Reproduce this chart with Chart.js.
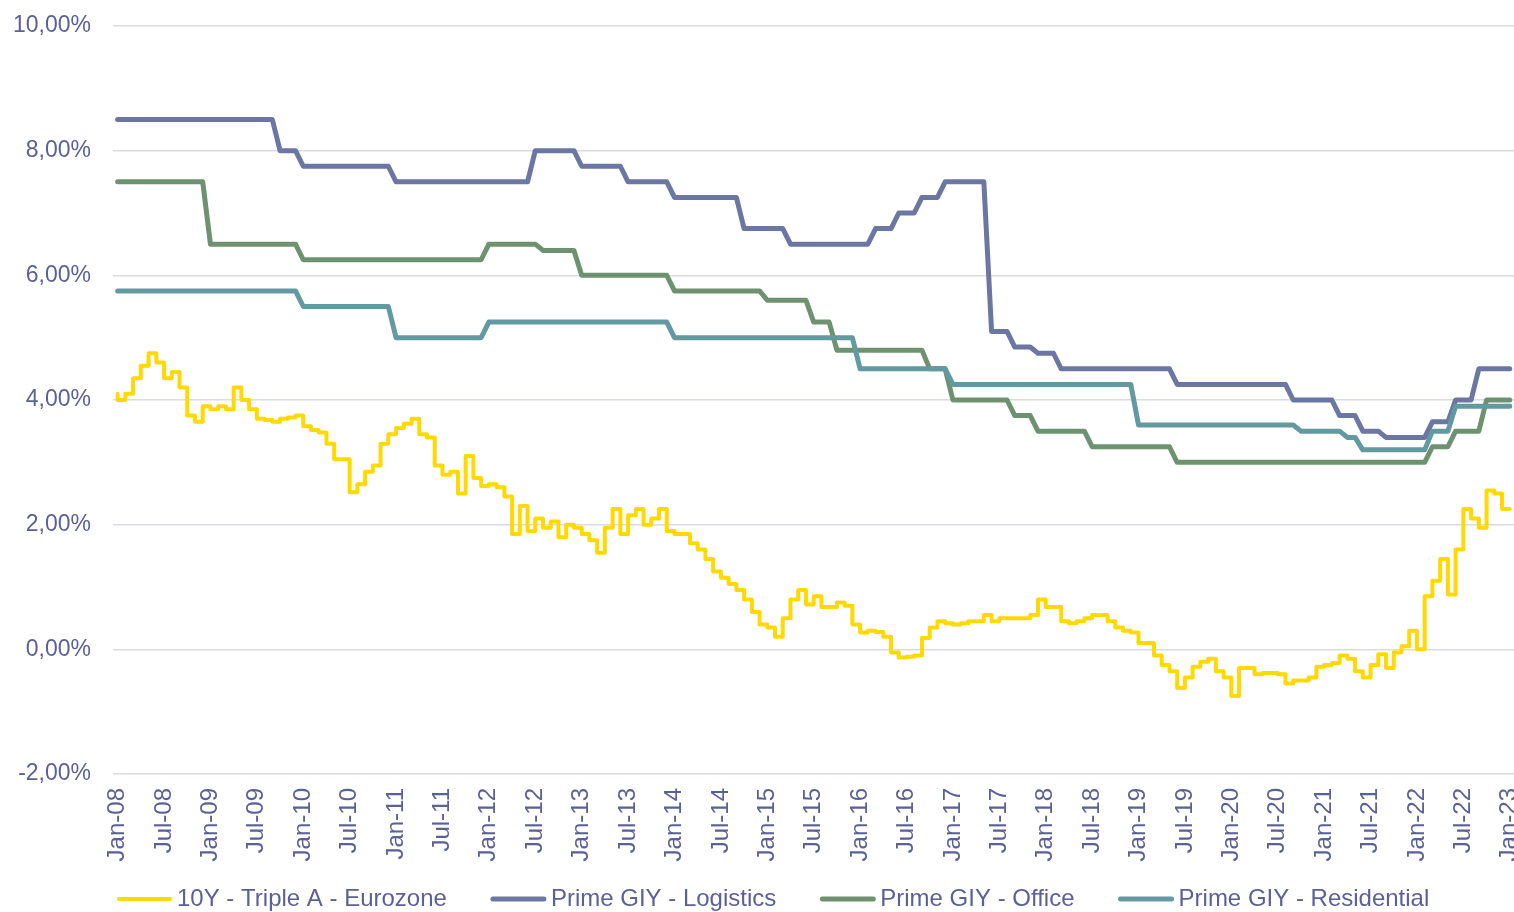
<!DOCTYPE html>
<html>
<head>
<meta charset="utf-8">
<title>Yields</title>
<script src="https://cdn.jsdelivr.net/npm/chart.js@4.4.1/dist/chart.umd.min.js"></script>
<style>
  html, body { margin: 0; padding: 0; background: #fff; }
  canvas { display: block; }
</style>
</head>
<body>
<canvas id="yieldChart" width="1514" height="912"></canvas>
<script>
// x axis: months since Jan-08, labelled every six months
const xTickLabels = ['Jan-08', 'Jul-08', 'Jan-09', 'Jul-09', 'Jan-10', 'Jul-10', 'Jan-11', 'Jul-11',
    'Jan-12', 'Jul-12', 'Jan-13', 'Jul-13', 'Jan-14', 'Jul-14', 'Jan-15', 'Jul-15', 'Jan-16', 'Jul-16',
    'Jan-17', 'Jul-17', 'Jan-18', 'Jul-18', 'Jan-19', 'Jul-19', 'Jan-20', 'Jul-20', 'Jan-21', 'Jul-21',
    'Jan-22', 'Jul-22', 'Jan-23'];
const yTickLabels = ['-2,00%', '0,00%', '2,00%', '4,00%', '6,00%', '8,00%', '10,00%'];

const seriesNames = ['10Y - Triple A - Eurozone', 'Prime GIY - Logistics', 'Prime GIY - Office', 'Prime GIY - Residential'];

// 10Y AAA eurozone yield, one value per month Jan-08 .. Jan-23
const bondYield = [
    4.1, 4.0, 4.1, 4.35, 4.55, 4.75, 4.6, 4.35, 4.45, 4.2, 3.75, 3.65,
    3.9, 3.85, 3.9, 3.85, 4.2, 4.0, 3.85, 3.7, 3.68, 3.65, 3.7, 3.72,
    3.75, 3.58, 3.52, 3.48, 3.3, 3.05, 3.05, 2.52, 2.65, 2.85, 2.95, 3.3,
    3.45, 3.55, 3.62, 3.7, 3.45, 3.4, 2.95, 2.8, 2.85, 2.5, 3.1, 2.75,
    2.62, 2.65, 2.6, 2.45, 1.85, 2.3, 1.9, 2.1, 1.95, 2.05, 1.8, 2.0,
    1.95, 1.85, 1.75, 1.55, 1.95, 2.25, 1.85, 2.15, 2.25, 2.0, 2.1, 2.25,
    1.9, 1.85, 1.85, 1.7, 1.6, 1.45, 1.25, 1.15, 1.05, 0.95, 0.8, 0.6,
    0.4, 0.35, 0.2, 0.5, 0.8, 0.95, 0.72, 0.85, 0.68, 0.68, 0.75, 0.7,
    0.4, 0.27, 0.3, 0.28, 0.2, -0.05, -0.13, -0.12, -0.1, 0.18, 0.35, 0.45,
    0.42, 0.4, 0.42, 0.45, 0.45, 0.55, 0.45, 0.5, 0.5, 0.5, 0.5, 0.55,
    0.8, 0.68, 0.68, 0.45, 0.42, 0.45, 0.5, 0.55, 0.55, 0.45, 0.35, 0.3,
    0.27, 0.1, 0.1, -0.1, -0.25, -0.35, -0.62, -0.45, -0.28, -0.2, -0.15, -0.35,
    -0.45, -0.75, -0.3, -0.3, -0.4, -0.38, -0.38, -0.4, -0.55, -0.5, -0.5, -0.45,
    -0.28, -0.25, -0.22, -0.1, -0.15, -0.35, -0.45, -0.25, -0.08, -0.3, -0.05, 0.05,
    0.3, 0.0, 0.85, 1.1, 1.45, 0.88, 1.6, 2.25, 2.1, 1.95, 2.55, 2.5, 2.25
];

// prime gross initial yields: month the new level applies from, and the level
const logisticsFrom = [0, 21, 24, 36, 54, 60, 66, 72, 81, 87, 98, 101, 104, 107, 113, 116, 119, 122, 137, 152, 158, 161, 164, 170, 173, 176];
const logisticsRate = [8.5, 8.0, 7.75, 7.5, 8.0, 7.75, 7.5, 7.25, 6.75, 6.5, 6.75, 7.0, 7.25, 7.5, 5.1, 4.85, 4.75, 4.5, 4.25, 4.0, 3.75, 3.5, 3.4, 3.65, 4.0, 4.5];

const officeFrom = [0, 12, 24, 48, 55, 60, 72, 84, 90, 93, 105, 108, 116, 119, 126, 137, 170, 173, 177];
const officeRate = [7.5, 6.5, 6.25, 6.5, 6.4, 6.0, 5.75, 5.6, 5.25, 4.8, 4.5, 4.0, 3.75, 3.5, 3.25, 3.0, 3.25, 3.5, 4.0];

const residentialFrom = [0, 24, 36, 48, 72, 96, 108, 132, 153, 159, 161, 170, 173];
const residentialRate = [5.75, 5.5, 5.0, 5.25, 5.0, 4.5, 4.25, 3.6, 3.5, 3.4, 3.2, 3.5, 3.9];

const LAST_MONTH = 180;
const TEXT = '#5b6197';
const FONT_FAMILY = '"Liberation Sans", Arial, sans-serif';

// level held until the month before the next change
function heldLevels(from, rate) {
    const pts = [];
    for (let i = 0; i < from.length; i++) {
        const end = i + 1 < from.length ? from[i + 1] - 1 : LAST_MONTH;
        pts.push({ x: from[i], y: rate[i] });
        if (end > from[i]) pts.push({ x: end, y: rate[i] });
    }
    return pts;
}

const legendRow = {
    id: 'legendRow',
    afterDraw(chart) {
        const ctx = chart.ctx;
        const y = 899;
        let x = chart.chartArea.left + 4;
        ctx.save();
        ctx.font = '24px ' + FONT_FAMILY;
        ctx.textBaseline = 'middle';
        ctx.lineCap = 'round';
        chart.data.datasets.forEach(ds => {
            ctx.strokeStyle = ds.borderColor;
            ctx.lineWidth = Math.max(4, ds.borderWidth);
            ctx.beginPath();
            ctx.moveTo(x + 2, y);
            ctx.lineTo(x + 53, y);
            ctx.stroke();
            x += 60;
            ctx.fillStyle = TEXT;
            ctx.fillText(ds.label, x, y);
            x += ctx.measureText(ds.label).width + 44;
        });
        ctx.restore();
    }
};

function noPadding(scale) {
    scale.paddingTop = 0;
    scale.paddingBottom = 0;
    scale.paddingLeft = 0;
    scale.paddingRight = 0;
}

function drawChart() {
    const ctx = document.getElementById('yieldChart');
    Chart.defaults.font.family = FONT_FAMILY;
    Chart.defaults.color = TEXT;

    const lineStyle = {
        fill: false,
        pointRadius: 0,
        borderCapStyle: 'round',
        borderJoinStyle: 'round'
    };

    const data = {
        datasets: [{
            ...lineStyle,
            label: seriesNames[0],
            data: bondYield.map((v, i) => ({ x: i, y: v })),
            borderColor: '#ffd900',
            borderWidth: 4,
            stepped: 'after',
            order: 3
        }, {
            ...lineStyle,
            label: seriesNames[1],
            data: heldLevels(logisticsFrom, logisticsRate),
            borderColor: '#6b76a2',
            borderWidth: 5,
            order: 2
        }, {
            ...lineStyle,
            label: seriesNames[2],
            data: heldLevels(officeFrom, officeRate),
            borderColor: '#6e9270',
            borderWidth: 5,
            order: 1
        }, {
            ...lineStyle,
            label: seriesNames[3],
            data: heldLevels(residentialFrom, residentialRate),
            borderColor: '#6399a0',
            borderWidth: 5,
            order: 0
        }]
    };

    const options = {
        responsive: false,
        animation: false,
        devicePixelRatio: 1,
        layout: { padding: { top: 26, left: 0, right: 0, bottom: 0 } },
        plugins: {
            legend: { display: false },
            tooltip: { enabled: false }
        },
        scales: {
            x: {
                type: 'linear',
                min: -0.6,
                max: 180.55,
                grid: { display: false },
                border: { display: false },
                afterBuildTicks: scale => {
                    scale.ticks = xTickLabels.map((_, i) => ({ value: i * 6 }));
                },
                afterFit: scale => {
                    noPadding(scale);
                    scale.height = 138;
                },
                ticks: {
                    autoSkip: false,
                    minRotation: 90,
                    maxRotation: 90,
                    padding: 6,
                    font: { size: 24 },
                    callback: v => xTickLabels[Math.round(v / 6)]
                }
            },
            y: {
                min: -2,
                max: 10,
                grid: { color: '#d9d9e8', lineWidth: 1.5, drawTicks: false },
                border: { display: false },
                afterFit: scale => {
                    noPadding(scale);
                    scale.width = 113;
                },
                ticks: {
                    stepSize: 2,
                    padding: 22,
                    font: { size: 23 },
                    callback: v => yTickLabels[Math.round((v + 2) / 2)]
                }
            }
        }
    };

    new Chart(ctx, {
        type: 'line',
        data: data,
        options: options,
        plugins: [legendRow]
    });
}

drawChart();
</script>
</body>
</html>
